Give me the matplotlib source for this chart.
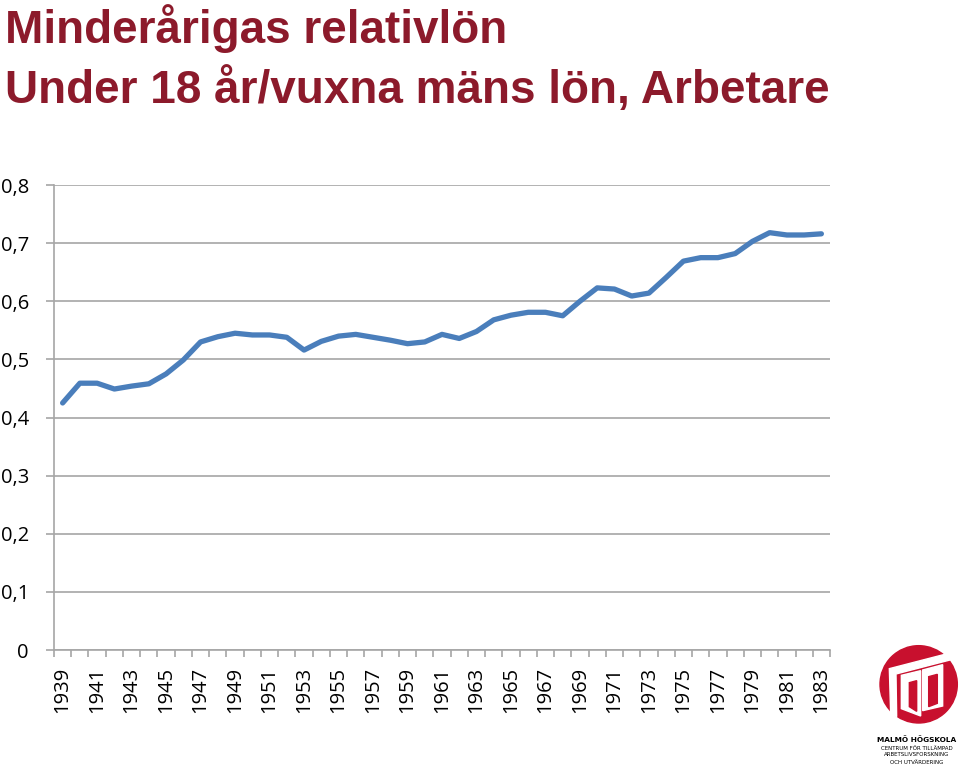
import numpy as np
import matplotlib.pyplot as plt
from matplotlib.patches import Circle, Polygon

years = list(range(1939, 1984))
ratio = [0.425, 0.459, 0.459, 0.449, 0.454, 0.458, 0.475, 0.499, 0.530, 0.539,
         0.545, 0.542, 0.542, 0.538, 0.516, 0.531, 0.540, 0.543, 0.538, 0.533,
         0.527, 0.530, 0.543, 0.536, 0.548, 0.568, 0.576, 0.581, 0.581, 0.575,
         0.600, 0.623, 0.621, 0.609, 0.614, 0.641, 0.669, 0.675, 0.675, 0.682,
         0.703, 0.718, 0.714, 0.714, 0.716]
y_ticks = [0, 0.1, 0.2, 0.3, 0.4, 0.5, 0.6, 0.7, 0.8]
y_labels = ["0", "0,1", "0,2", "0,3", "0,4", "0,5", "0,6", "0,7", "0,8"]

title_color = "#8C1A2B"
line_color = "#4A7EBB"
grid_color = "#A6A6A6"
W, H = 960, 767

fig = plt.figure(figsize=(9.6, 7.67), dpi=100)
ax = fig.add_axes([54 / W, 1 - 650 / H, 776 / W, 465 / H])

x = np.arange(len(years))
ax.plot(x, ratio, color=line_color, linewidth=3.8, solid_capstyle="round",
        solid_joinstyle="round", zorder=3)

ax.set_xlim(-0.5, len(years) - 0.5)
ax.set_ylim(0, 0.8)
ax.set_yticks(y_ticks)
ax.set_yticklabels(y_labels, fontfamily="Open Sans", fontsize=14.5)
ax.yaxis.grid(True, color=grid_color, linewidth=1.2)
ax.set_axisbelow(True)

ax.set_xticks(x[::2])
ax.set_xticklabels([str(y) for y in years[::2]], rotation=90,
                   fontfamily="Open Sans", fontsize=14.5)
ax.set_xticks(np.arange(-0.5, len(years)), minor=True)
ax.tick_params(axis="x", which="major", length=0, pad=12)
ax.tick_params(axis="x", which="minor", length=5, color=grid_color, width=1.2)
ax.tick_params(axis="y", length=6, color=grid_color, width=1.2, pad=12)

for side in ["top", "right"]:
    ax.spines[side].set_visible(False)
for side in ["left", "bottom"]:
    ax.spines[side].set_color(grid_color)
    ax.spines[side].set_linewidth(1.2)

fig.text(5 / W, 1 - 43 / H, "Minderårigas relativlön", color=title_color,
         fontfamily="Liberation Sans", fontweight="bold", fontsize=33, va="baseline")
fig.text(5 / W, 1 - 103 / H, "Under 18 år/vuxna mäns lön, Arbetare", color=title_color,
         fontfamily="Liberation Sans", fontweight="bold", fontsize=33, va="baseline")

# logo, drawn in pixel-like coordinates of a 90x90 box
lax = fig.add_axes([870 / W, 1 - 730 / H, 90 / W, 90 / H])
lax.set_xlim(0, 270)
lax.set_ylim(270, 0)
lax.axis("off")
red = "#C8102E"
lax.add_patch(Circle((146, 133), 116, color=red))
lax.add_patch(Polygon([(58, 86), (236, 40), (240, 60), (78, 102), (80, 230), (62, 222)], color="white"))
lax.add_patch(Polygon([(94, 106), (152, 92), (152, 228), (94, 206)], color="white"))
lax.add_patch(Polygon([(118, 128), (140, 122), (140, 214), (118, 200)], color=red))
lax.add_patch(Polygon([(158, 90), (218, 74), (218, 198), (158, 212)], color="white"))
lax.add_patch(Polygon([(176, 110), (202, 103), (202, 190), (176, 200)], color=red))

fig.text(917 / W, 1 - 740 / H, "MALMÖ HÖGSKOLA", ha="center", va="center",
         fontsize=5.3, fontweight="bold", color="black")
for yy, t in [(748, "CENTRUM FÖR TILLÄMPAD"), (755, "ARBETSLIVSFORSKNING"),
              (762, "OCH UTVÄRDERING")]:
    fig.text(917 / W, 1 - yy / H, t, ha="center", va="center", fontsize=4.0, color="black")

fig.savefig("out.png", dpi=100)
